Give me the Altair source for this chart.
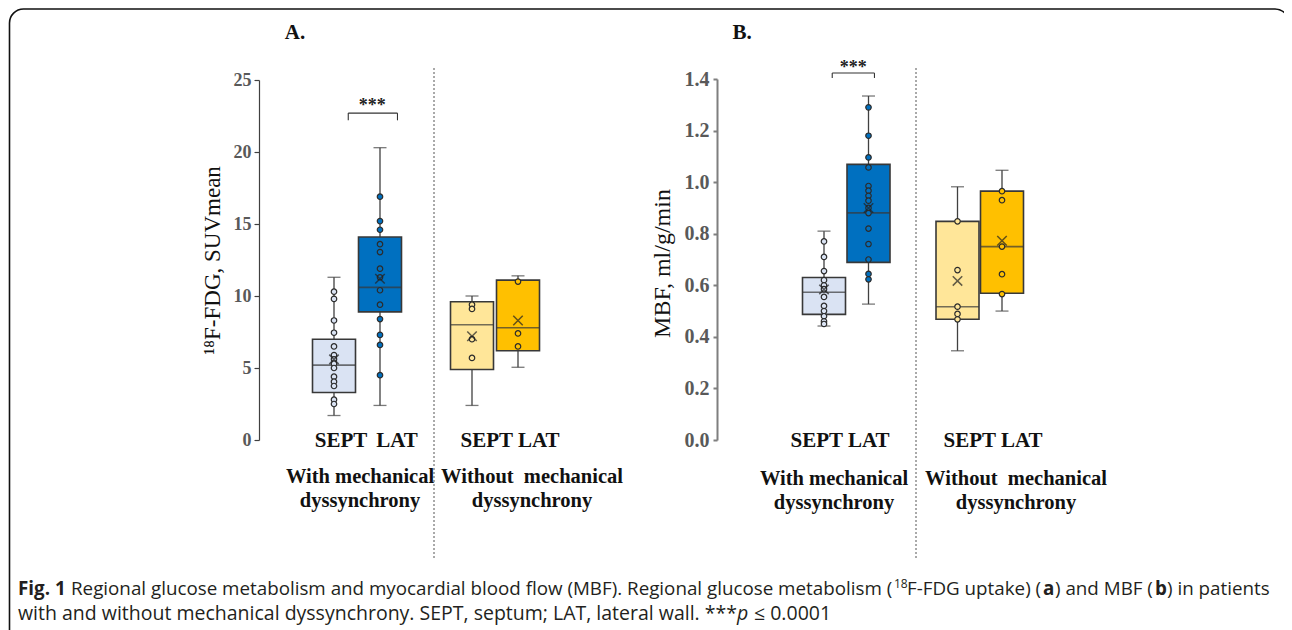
import altair as alt
import pandas as pd

# ---------------- data ----------------
groups = ["SEPT_with", "LAT_with", "SEPT_without", "LAT_without"]
slots = [0, 1, 3, 4]
palette = ["#dae3f3", "#0070c0", "#ffe699", "#ffc000"]

# Panel A: 18F-FDG SUVmean
A_min = [1.7, 2.4, 2.4, 5.05]
A_q1 = [3.3, 8.9, 4.9, 6.2]
A_med = [5.2, 10.6, 8.0, 7.8]
A_q3 = [7.0, 14.1, 9.6, 11.1]
A_max = [11.3, 20.3, 10.0, 11.4]
A_mean = [5.6, 11.2, 7.2, 8.3]
A_sept_with = [10.3, 9.8, 8.3, 7.45, 6.5, 5.9, 5.6, 5.3, 5.0, 4.4, 4.05, 3.75, 2.8, 2.5]
A_lat_with = [16.9, 15.2, 14.6, 13.6, 13.05, 11.9, 11.3, 10.4, 9.4, 8.4, 7.3, 6.6, 4.5]
A_sept_without = [9.4, 9.1, 7.0, 5.7]
A_lat_without = [11.0, 7.4, 6.5]
A_ticks = [0, 5, 10, 15, 20, 25]

# Panel B: MBF ml/g/min
B_min = [0.442, 0.527, 0.346, 0.50]
B_q1 = [0.487, 0.689, 0.468, 0.569]
B_med = [0.573, 0.881, 0.517, 0.75]
B_q3 = [0.63, 1.069, 0.848, 0.965]
B_max = [0.81, 1.334, 0.982, 1.046]
B_mean = [0.584, 0.90, 0.617, 0.773]
B_sept_with = [0.77, 0.71, 0.655, 0.62, 0.60, 0.585, 0.555, 0.52, 0.50, 0.48, 0.46, 0.45]
B_lat_with = [1.29, 1.18, 1.096, 1.057, 0.985, 0.967, 0.947, 0.928, 0.90, 0.88, 0.82, 0.76, 0.70, 0.644, 0.623]
B_sept_without = [0.848, 0.659, 0.517, 0.489, 0.468]
B_lat_without = [0.965, 0.93, 0.75, 0.643, 0.566]
B_ticks = [0.0, 0.2, 0.4, 0.6, 0.8, 1.0, 1.2, 1.4]

# significance brackets (slot units, value units)
A_bracket = dict(x1=0.31, x2=1.38, y=22.7, tip=22.2, sx=0.83, sy=23.2)
B_bracket = dict(x1=0.185, x2=1.134, y=1.423, tip=1.404, sx=0.66, sy=1.442)

SERIF = "Liberation Serif"
SANS = "Open Sans"
DARK = "#404040"
NB = "\u00a0"


def stats_df(mn, q1, med, q3, mx, mean):
    return pd.DataFrame({"slot": slots, "group": groups, "min": mn, "q1": q1,
                         "med": med, "q3": q3, "max": mx, "mean": mean})


def points_df(lists):
    rows = []
    for s, g, vals in zip(slots, groups, lists):
        for v in vals:
            rows.append({"slot": s, "group": g, "value": v})
    return pd.DataFrame(rows)


def panel(st, pts, br, xrange, ydom, yrange, axis):
    xs = alt.Scale(domain=[0, 4], range=xrange, nice=False, zero=False)
    ys = alt.Scale(domain=ydom, range=yrange, nice=False, zero=False)
    X = alt.X("slot:Q", scale=xs, axis=None)

    def Y(f):
        return alt.Y(f"{f}:Q", scale=ys, axis=axis)

    fill = alt.Fill("group:N", scale=alt.Scale(domain=groups, range=palette), legend=None)
    base = alt.Chart(st)
    whisk = base.mark_rule(color=DARK, strokeWidth=1.3).encode(x=X, y=Y("min"), y2="max:Q")
    cap_lo = base.mark_tick(orient="horizontal", size=13, thickness=1.3, color=DARK).encode(x=X, y=Y("min"))
    cap_hi = base.mark_tick(orient="horizontal", size=13, thickness=1.3, color=DARK).encode(x=X, y=Y("max"))
    box = base.mark_bar(size=43, stroke="#383838", strokeWidth=1.6, opacity=1).encode(
        x=X, y=Y("q1"), y2="q3:Q", fill=fill)
    med = base.mark_tick(orient="horizontal", size=43, thickness=1.6, color="#383838").encode(x=X, y=Y("med"))
    dots = alt.Chart(pts).mark_circle(size=30, stroke="#2b2b2b", strokeWidth=1.2, opacity=1).encode(
        x=X, y=Y("value"), fill=fill)
    mean = base.mark_point(shape="M-1,-1L1,1M-1,1L1,-1", size=90, stroke="#222",
                           strokeWidth=1.5, filled=False).encode(x=X, y=Y("mean"))
    bdf = pd.DataFrame({"x1": [br["x1"]], "x2": [br["x2"]], "y": [br["y"]], "tip": [br["tip"]]})
    tips = pd.DataFrame({"x": [br["x1"], br["x2"]], "y": [br["y"], br["y"]], "tip": [br["tip"], br["tip"]]})
    hline = alt.Chart(bdf).mark_rule(color="#333", strokeWidth=1.1).encode(
        x=alt.X("x1:Q", scale=xs, axis=None), x2="x2:Q", y=Y("y"))
    vlines = alt.Chart(tips).mark_rule(color="#333", strokeWidth=1.1).encode(
        x=alt.X("x:Q", scale=xs, axis=None), y=Y("y"), y2="tip:Q")
    stars = alt.Chart(pd.DataFrame({"x": [br["sx"]], "y": [br["sy"]], "t": ["***"]})).mark_text(
        font=SERIF, fontSize=18, fontWeight="bold", baseline="middle", align="center", color="#222").encode(
        x=alt.X("x:Q", scale=xs, axis=None), y=Y("y"), text="t:N")
    return alt.layer(whisk, cap_lo, cap_hi, box, med, dots, mean, hline, vlines, stars)


axisA = alt.Axis(orient="left", offset=-251, values=A_ticks, format="d", grid=False,
                 labelFont=SERIF, labelFontSize=18, labelFontWeight="bold", labelColor="#595959",
                 labelPadding=3, tickSize=5, tickColor=DARK, tickWidth=1.2,
                 domainColor=DARK, domainWidth=1.2, labelFlush=False,
                 title="¹⁸F-FDG, SUVmean", titleFont=SERIF, titleFontSize=23,
                 titleFontWeight="normal", titleColor="#111", titleAngle=270,
                 titleX=-47, titleY=252, titleAlign="center", titleBaseline="middle")
axisB = alt.Axis(orient="left", offset=-709, values=B_ticks, format=".1f", grid=False,
                 labelFont=SERIF, labelFontSize=20, labelFontWeight="bold", labelColor="#595959",
                 labelPadding=4, tickSize=4, tickColor="#7f7f7f", tickWidth=2,
                 domainColor="#7f7f7f", domainWidth=2, labelFlush=False,
                 title="MBF, ml/g/min", titleFont=SERIF, titleFontSize=24,
                 titleFontWeight="normal", titleColor="#111", titleAngle=270,
                 titleX=-55, titleY=255, titleAlign="center", titleBaseline="middle")

panelA = panel(stats_df(A_min, A_q1, A_med, A_q3, A_max, A_mean),
               points_df([A_sept_with, A_lat_with, A_sept_without, A_lat_without]),
               A_bracket, [321, 515], [0, 25], [432, 72], axisA)
panelB = panel(stats_df(B_min, B_q1, B_med, B_q3, B_max, B_mean),
               points_df([B_sept_with, B_lat_with, B_sept_without, B_lat_without]),
               B_bracket, [811, 999], [0, 1.4], [432, 71], axisB)


def text(x, y, t, font=SERIF, size=20, weight="bold", align="center", baseline="middle",
         color="#111", style="normal"):
    return alt.Chart(pd.DataFrame({"t": [t]})).mark_text(
        font=font, fontSize=size, fontWeight=weight, align=align, baseline=baseline,
        color=color, fontStyle=style).encode(x=alt.value(x), y=alt.value(y), text="t:N")


border = alt.Chart(pd.DataFrame({"a": [0]})).mark_rect(
    fill=None, fillOpacity=0, stroke="#111", strokeWidth=1.6, cornerRadius=14).encode(
    x=alt.value(1.5), x2=alt.value(1281), y=alt.value(1), y2=alt.value(660))

sepA = alt.Chart(pd.DataFrame({"a": [0]})).mark_rule(
    color="#555", strokeWidth=1, strokeDash=[2, 2]).encode(x=alt.value(426), y=alt.value(60), y2=alt.value(552))
sepB = alt.Chart(pd.DataFrame({"a": [0]})).mark_rule(
    color="#555", strokeWidth=1, strokeDash=[2, 2]).encode(x=alt.value(908), y=alt.value(60), y2=alt.value(552))

labels = [
    text(287, 25, "A.", size=21),
    text(734, 25, "B.", size=21),
    text(333, 433, "SEPT", size=21),
    text(389, 433, "LAT", size=21),
    text(502, 433, "SEPT LAT", size=21),
    text(832, 433, "SEPT LAT", size=21),
    text(985, 433, "SEPT LAT", size=21),
    text(352, 469, "With mechanical", size=20.5),
    text(352, 493, "dyssynchrony", size=20.5),
    text(524, 469, "Without" + NB + NB + "mechanical", size=20.5),
    text(524, 493, "dyssynchrony", size=20.5),
    text(826, 471, "With mechanical", size=20.5),
    text(826, 495, "dyssynchrony", size=20.5),
    text(1008, 471, "Without" + NB + NB + "mechanical", size=20.5),
    text(1008, 495, "dyssynchrony", size=20.5),
]

CAP = "#231f20"


def cap(x, y, t, size=18.8, weight="normal", style="normal"):
    return text(x, y, t, font=SANS, size=size, weight=weight, align="left",
                baseline="alphabetic", color=CAP, style=style)


L1, L2 = 587, 612
caption = [
    cap(10, L1, "Fig. 1", weight="bold"),
    cap(63, L1, "Regional glucose metabolism and myocardial blood flow (MBF). Regional glucose metabolism ("),
    cap(886, L1 - 7, "18", size=12),
    cap(899, L1, "F-FDG uptake) ("),
    cap(1035, L1, "a", weight="bold"),
    cap(1047, L1, ") and MBF ("),
    cap(1147, L1, "b", weight="bold"),
    cap(1159, L1, ") in patients"),
    cap(10, L2, "with and without mechanical dyssynchrony. SEPT, septum; LAT, lateral wall. ***", size=19.5),
    cap(729, L2, "p", size=19.5, style="italic"),
    cap(746, L2, "≤ 0.0001", size=19.5),
]

chart = alt.layer(border, sepA, sepB, *labels, *caption, panelA, panelB).resolve_scale(
    x="independent", y="independent").properties(
    width=1276, height=622, autosize=alt.AutoSizeParams(type="none"), padding=0
).configure_view(strokeWidth=0)

chart.save("out.html", embed_options={"renderer": "svg", "actions": False})
